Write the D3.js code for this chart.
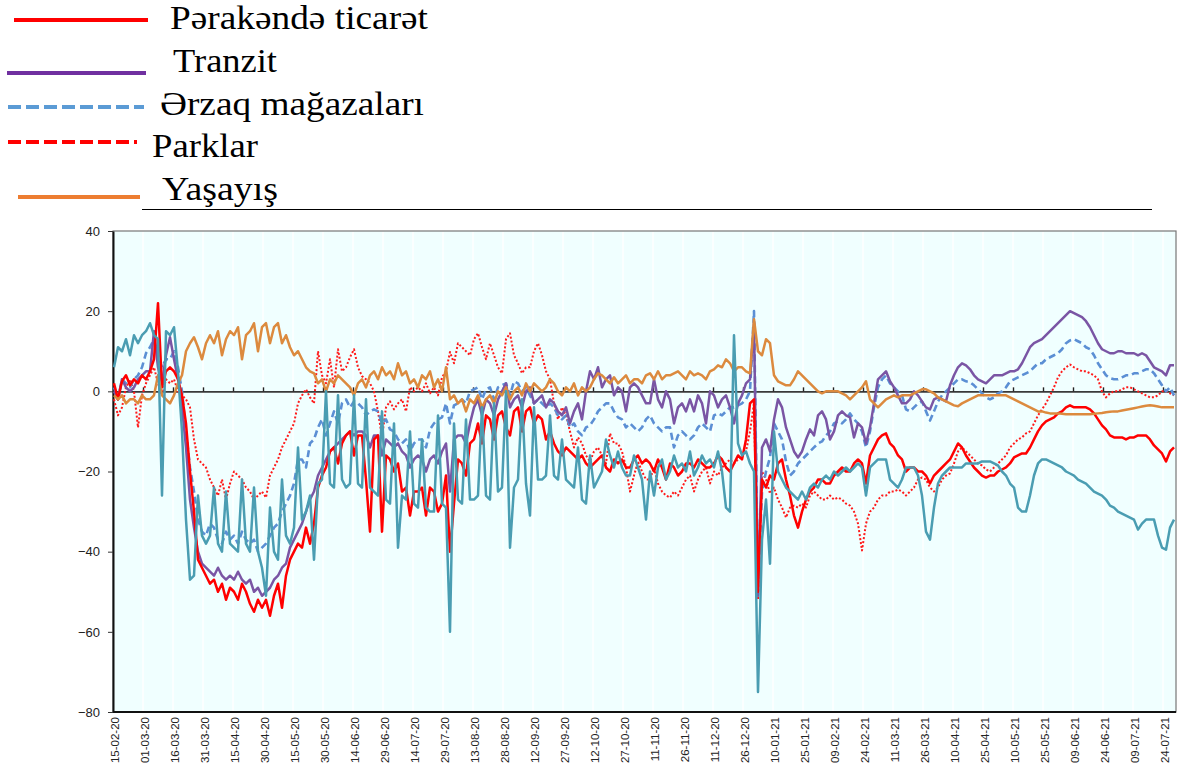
<!DOCTYPE html>
<html>
<head>
<meta charset="utf-8">
<script src="https://d3js.org/d3.v7.min.js"></script>
<style>
  body { margin: 0; background: #fff; }
  svg { display: block; }
  .tick text { font-family: "Liberation Sans", Arial, sans-serif; fill: #222; }
</style>
</head>
<body>
<script>
  // one value every 2 days, first value on 15-02-20
  var startDate = "15-02-20";
  var stepDays = 2;

  var tickLabels = ["15-02-20","01-03-20","16-03-20","31-03-20","15-04-20","30-04-20","15-05-20","30-05-20",
    "14-06-20","29-06-20","14-07-20","29-07-20","13-08-20","28-08-20","12-09-20","27-09-20","12-10-20",
    "27-10-20","11-11-20","26-11-20","11-12-20","26-12-20","10-01-21","25-01-21","09-02-21","24-02-21",
    "11-03-21","26-03-21","10-04-21","25-04-21","10-05-21","25-05-21","09-06-21","24-06-21","09-07-21","24-07-21"];
  var yTicks = [-80, -60, -40, -20, 0, 20, 40];

  var seriesNames = ["Pərakəndə ticarət", "Tranzit", "Ərzaq mağazaları", "Parklar", "Yaşayış"];

  // Pərakəndə ticarət
  var retail = [
    2, -2, 2.5, 4, 1.5, 3, 2, 4, 3, 5,
    8, 22, 1, 5, 6, 5, 3, -1, -8, -20,
    -30, -42, -44, -46, -48, -47, -50, -48, -52, -49,
    -50, -52, -48, -50, -53, -55, -52, -54, -52, -56,
    -51, -48, -54, -46, -42, -40, -38, -39, -34, -38,
    -33, -24, -21, -19, -15, -14, -18, -13, -11, -10,
    -16, -11, -11, -22, -35, -12, -11, -35, -16, -17,
    -20, -18, -25, -24, -31, -25, -25, -24, -31, -24,
    -25, -30, -28, -21, -40, -28, -17, -18, -21, -13,
    -12, -8, -13, -6, -7, -12, -6, -5, -9, -11,
    -5, -4, -10, -5, -4, -8, -6, -7, -12, -10,
    -13, -15, -16, -14, -15, -16, -17, -16, -18, -19,
    -18, -17, -16, -19, -20, -17, -18, -17, -19, -19,
    -17, -16, -18, -17, -18, -20, -17, -19, -22, -18,
    -19, -21, -20, -18, -18, -19, -17, -18, -19, -19,
    -18, -16, -17, -19, -20, -18, -16, -17, -12, -3,
    -2, -50, -22, -24, -21, -22, -18, -17, -22, -26,
    -31, -34, -30, -27, -25, -24, -22, -22, -23, -23,
    -21, -20, -19, -20, -20, -18, -17, -18, -23, -16,
    -14, -12, -11, -10.5, -13, -14, -16, -17, -20, -19,
    -19, -20, -20, -21, -23, -21, -20, -19, -18, -17,
    -15, -13, -14, -16, -17.5, -19, -20, -21, -21.5, -21,
    -21, -20, -19.5, -19, -18, -16.5, -16, -15.5, -15.5, -14,
    -12, -10, -8.5, -7.5, -7, -6.5, -5.5, -5, -4, -3.5,
    -4, -4, -4, -4, -4.5, -5.5, -7, -8.5, -9.5, -11,
    -11.5, -11.5, -11.5, -12, -11.5, -11.5, -11, -11, -11, -12,
    -13.5, -14.5, -15.5, -17.5, -15, -14
  ];

  // Tranzit
  var transit = [
    0, -2, 3, 1, 0, 1, 3, 4, 5, 5,
    15, 6, 2, 9, 13.5, 8, 3, -4, -14, -27,
    -34, -40, -43, -44, -45, -46, -44, -46, -47, -46,
    -47, -45, -47, -48, -47, -50, -49, -51, -50, -49,
    -47, -46, -44, -43, -39, -37, -35, -33, -30, -27,
    -25, -21, -19, -17, -15, -14, -13, -12, -11, -10,
    -11, -10, -10, -11, -14, -11, -11, -16, -12, -13,
    -14, -13, -15, -16, -19, -17, -16, -17, -20, -17,
    -16, -18, -15, -13, -25, -12, -11, -11, -13, -8,
    -4, -2, -6, -2, -3, -6, -2, 0, 2, -4,
    -2, -1, -4, 0, 1, -3, -2, -1, -4, -2,
    -3, -5, -6, -4, -8, -5, -3, -7, 0, 5,
    3, 6, 1, 3, 4, -1, 1, 0, -5, 1,
    2, 1, -1, -3, -3, 3, -2, -4, 0, -2,
    -8, -4, -3, -5, -2, -5, -1, -3, -8, 0,
    -1, -4, -2, -1, -4, -8, -3, -1, 2, 3,
    17, -51, -14, -12, -15, -7, -2, -4, -9, -12,
    -15, -16.5, -15, -12, -9.5, -11, -6, -5, -7, -12,
    -10, -6, -5, -6, -6.5, -11.5, -8, -9, -13, -9,
    -3, 3, 4, 5, 2.5, 1, -1, -3, -3, -2,
    0, -1, -2.5, -4, -4.5, -2, -1.5, -2, -2.5, 1.5,
    4, 6, 7, 6.5, 5.5, 4, 3, 2.5, 2, 3,
    4, 4, 4, 4.5, 5, 5, 5.5, 7, 9, 11,
    12, 12.5, 13, 14, 15, 16, 17, 18, 19, 20,
    19.5, 19, 18.5, 17.5, 16, 14, 12, 10.5, 10, 9.5,
    9.5, 10, 10, 9.5, 9.5, 9.5, 9, 9.5, 9, 7.5,
    6, 5.5, 5, 4, 6.5, 6.5
  ];

  // Ərzaq mağazaları
  var grocery = [
    1, -2, 3, 2, 1, 3, 4, 6, 9.5, 11,
    13, 9, 6, 8, 8, 10, 6, 0, -10, -19,
    -25, -32, -35, -36, -33, -34, -37, -38, -35, -37,
    -36, -38, -35, -37, -38, -37, -40, -39, -38, -36,
    -34, -33, -30, -28, -26, -23, -17, -17, -19, -13,
    -12, -9, -7, -11, -8, -5, -8, -3, -2, -4,
    -2.5, -3, -4, -6, -5, -4.5, -5, -8, -7, -9.5,
    -10, -12, -13, -12, -15, -13, -12, -12, -14, -9.5,
    -8, -7, -6.5, -3, -8, -3.5, -3, -2, -3, 0,
    0.5, 1, -2, 0.5, 1, -2, 1, 1.5, 2, -1,
    2.5, 2, 0, 1, -1, -3, -2, -3, -4, -3,
    -4, -6, -7, -6, -9, -8, -10, -11, -9, -8.5,
    -7, -5, -4, -3, -3, -5, -6.5, -7, -9, -8,
    -9, -10, -9, -7, -6, -8, -9, -10, -9, -9,
    -14, -11, -10, -11, -12, -11, -9, -8, -9, -10,
    -6, -5.5, -6, -5, -4, -4, -3.5, -3, -2, 0,
    20, -50, -25, -20, -16.5, -8, -10, -12, -17.5, -21,
    -20, -18, -17, -16, -15, -14, -13, -12.5, -11, -10,
    -8, -7.5, -8, -7, -5.5, -7, -8, -10, -14, -10,
    -4, 1, 3, 4, 2, 1, 0, -1, -4.5, -5,
    -4, -3, -2.5, -5, -7.3, -5, -2.5, -1, 0, 1,
    2, 3, 3, 2.5, 2.3, 1.5, 0.5, -0.5, -1.5, -2,
    -1.5, -0.5, 0, 1, 2.5, 3, 3.5, 4, 4.5, 5,
    6, 7, 7, 8, 8.5, 9, 9.5, 10.5, 12, 12.7,
    13, 12.5, 12, 11, 10.5, 9, 7, 5.5, 4, 3.3,
    3, 3, 3.5, 4, 4, 4.5, 4.5, 5, 5.5, 5.5,
    4.5, 3, 1.5, 0, 1, -1
  ];

  // Parklar
  var parks = [
    -2, -6, -4, 1, 3, 0, -9, -1, 2, 4,
    6, 2, -1, 3, 2, 3, 0, -1, -2, -4,
    -12, -17, -18, -19, -22, -24, -26, -22, -27, -23,
    -20, -21, -22, -24, -25, -27, -26, -25, -26.5, -21,
    -19, -17, -14, -12, -10, -8, -3, -1, 0.5, -1.5,
    -3, 10, 4, 2, 8, 1, 10.5, 5, 6, 8.5,
    10.5, 6, 3.8, 3, 2, 0, -5, -11.5, -4, -2.5,
    -4.5, -3, -2, -5, 1, 0, 1, 0, 2, -0.5,
    1, -1, 3.5, 5, 9.8, 7, 12, 11, 10, 9,
    13, 14.5, 11, 8, 12, 9, 6, 4.5, 13, 14.5,
    9, 7, 4.5, 6, 6, 10, 12, 9, 5, 3,
    -3, -7, -4, -6, -10, -14, -11.5, -13, -16, -17.5,
    -15, -14, -16, -18, -10.5, -13, -13, -15, -19, -25,
    -21, -17.5, -20, -22, -22, -19, -23, -25, -26, -26.5,
    -25, -26, -24, -22, -21, -25, -22, -20, -19, -23,
    -20, -21, -19, -18, -17, -18, -17, -16, -15, -10,
    -3, -52, -20, -22, -25.5, -24, -27, -29, -31.5, -29,
    -28.5, -29, -28, -29, -26, -25, -26, -27, -27, -26,
    -27, -26.5, -27, -28, -28.5, -30, -33, -39.7, -33, -30,
    -29, -27, -26, -26, -25, -25, -24.5, -25, -26, -25,
    -24, -22, -21.5, -22, -24, -25, -24, -22, -21, -20.5,
    -18, -15, -14, -15, -16, -17, -18, -18.5, -19.5, -20,
    -19, -18, -17, -16, -14, -13, -12, -11.5, -10.5, -10,
    -8, -6, -4.5, -3, -1, 1, 3.5, 5, 6, 6.7,
    6, 5.5, 5, 5, 4.5, 4, 3, 0, -1.5, -0.5,
    0, 0, 0.5, 1, 1, 0.5, 0, -0.5, -1, -1.5,
    -1.5, -1, 0, 0, -0.5, -1
  ];

  // Yaşayış
  var residential = [
    -1, -2, -1, -3, -2, -2, -3, -1, -2, -2,
    -1, 4, -1, -2, -3, -1, 2, 4, 10, 12,
    13.5, 11, 8, 12, 14, 12, 15, 9, 13, 15,
    14, 16, 8, 14, 15, 17, 10, 16, 17, 12,
    16, 17, 12, 14, 11, 9, 10, 8, 6, 5,
    4.5, 2, 3, 0, 3, 2, 4, 3, 2, 1,
    -1, 2, 3, 1, 4, 5, 3, 6, 4, 5,
    3, 7, 4, 5, 2, 3, 1, 4, 3, 5,
    1, 3, 0, 6, -2, -1, -3, -2, -5, -2,
    -3, -1, -4, -2, -1, -3, 0, -1, 1, -2,
    0, 1, -1, 2, 0, 2, 1, 0, 1, 3,
    2, 0, -1, 1, 0, 2, -1, 1, 0, 1,
    3, 4.5, 4, 3, 2, 3.5, 2, 3, 4, 2,
    3, 3, 2, 4, 4.5, 3, 5, 3, 4, 4,
    4.5, 5, 4, 3, 5, 4, 4.5, 4, 3, 5,
    5.5, 6.5, 6, 8, 7, 5, 6, 6, 5, 4.5,
    18, 10, 9, 13, 12, 4, 2.5, 2, 1.5, 1.5,
    3, 5, 4, 3, 2, 1, 0, -0.5, 0, 0,
    0, 0, -0.5, -1, -2, -1, 0, 1, 2.5, -2,
    -3, -4, -3, -2, -1.5, -1, -1.5, -1, -1, -1,
    -0.5, 0, 0.5, 0.5, 0, -0.5, -1.5, -2, -2.5, -3,
    -3.5, -3.7, -3, -2.5, -2, -1.5, -1, -1, -1, -1,
    -1, -1, -1, -1, -1.5, -2, -2.5, -3, -3.5, -4,
    -4.5, -5, -5, -5.3, -5.5, -5.5, -5.5, -5.6, -5.7, -5.7,
    -5.7, -5.7, -5.7, -5.7, -5.7, -5.6, -5.5, -5.4, -5.2, -5.1,
    -5, -5, -4.8, -4.6, -4.4, -4.2, -4, -3.8, -3.6, -3.5,
    -3.6, -3.8, -4, -4, -4, -4
  ];

  // iş yerləri (no legend entry in the original)
  var workplaces = [
    6, 11, 10, 13, 9, 14, 12, 14, 15, 17,
    14, 13, -26, 15, 14, 16, 5, -10, -32, -47,
    -46, -26, -36, -38, -36, -24, -38, -40, -25, -38,
    -39, -40, -22, -38, -40, -24, -40, -44, -51, -29,
    -40, -42, -22, -36, -38, -34, -14, -32, -30, -26,
    -42, -23, -22, 0, -23, -24, -1, -22, -24, -23,
    -1, -23, -24, -2, -24, -25, -26, -5, -27, -28,
    -8, -39, -26, -27, -10, -28, -29, -12, -29, -30,
    -30, -6, -28, -29, -60, -8, -27, -28, -7, -27,
    -27, -26, -4, -26, -27, -3, -25, -24, 0, -39,
    -24, -22, -2, -23, -31, -4, -22, -22, -21, -6,
    -21, -22, -12, -22, -23, -24, -14, -27, -28, -16,
    -24, -22, -20, -12, -16, -19, -15, -19, -21, -21,
    -16, -19, -22, -32, -20, -26, -19, -17, -22, -20,
    -16, -19, -18, -20, -15, -21, -19, -16, -18, -17,
    -19, -15, -20, -29, -30, 14, -13, -16, -15, -18,
    -20, -75, -37, -27, -43, -10, -20, -22, -24, -25,
    -26, -27, -25, -27, -24, -23, -24, -22, -21, -22,
    -20, -21, -20, -19, -20, -19, -18, -19, -26, -19,
    -18, -17, -17, -17, -22, -23, -24, -22, -19, -19,
    -19, -21, -26, -35, -37, -29, -23, -21, -20, -19,
    -19, -19, -19, -18, -18, -18, -18, -17.5, -17.5, -17.5,
    -18, -18.5, -20, -21, -23, -24, -29, -30, -30, -26,
    -21, -18, -17, -17, -17.5, -18, -18.5, -19, -20, -20.5,
    -21, -22, -22.5, -23, -24, -25, -25.5, -26, -27, -28.5,
    -29, -30, -30.5, -31, -31.5, -32, -34.5, -33, -32, -32,
    -32, -36, -39, -39.5, -34, -32
  ];

  var width = 1179, height = 769;
  var plot = {left: 113, right: 1176, top: 231, bottom: 712};

  var svg = d3.select("body").append("svg")
    .attr("width", width)
    .attr("height", height);

  var parseDay = d3.timeParse("%d-%m-%y");
  var start = parseDay(startDate);
  var dates = retail.map(function(d, i) { return d3.timeDay.offset(start, i * stepDays); });
  var tickDates = tickLabels.map(parseDay);

  var x = d3.scaleTime()
    .domain([d3.timeHour.offset(start, -12), d3.timeDay.offset(start, 531)])
    .range([plot.left, plot.right]);
  var y = d3.scaleLinear()
    .domain([-80, 40])
    .range([plot.bottom, plot.top]);

  // plot area
  svg.append("rect")
    .attr("x", plot.left).attr("y", plot.top)
    .attr("width", plot.right - plot.left).attr("height", plot.bottom - plot.top)
    .attr("fill", "#f0ffff")
    .attr("stroke", "#777").attr("stroke-width", 1.2);

  // tick boundaries fall half a day before each label
  var bounds = tickDates.map(function(d) { return d3.timeHour.offset(d, -12); });

  svg.append("g").selectAll("line")
    .data(bounds.slice(1))
    .enter().append("line")
    .attr("x1", function(d) { return x(d); }).attr("x2", function(d) { return x(d); })
    .attr("y1", plot.top + 1).attr("y2", plot.bottom - 1)
    .attr("stroke", "#ffffff").attr("stroke-width", 1.5);

  // y axis
  var yAxis = svg.append("g")
    .attr("transform", "translate(" + plot.left + ",0)")
    .call(d3.axisLeft(y).tickValues(yTicks).tickSize(5).tickSizeOuter(0).tickPadding(8));
  yAxis.select(".domain").attr("stroke", "#111").attr("stroke-width", 2);
  yAxis.selectAll(".tick line").attr("stroke", "#333");
  yAxis.selectAll("text").style("font-size", "13px");

  // x axis labels
  var xAxis = svg.append("g")
    .attr("transform", "translate(0," + plot.bottom + ")")
    .call(d3.axisBottom(x).tickValues(tickDates).tickSize(0).tickFormat(d3.timeFormat("%d-%m-%y")));
  xAxis.select(".domain").remove();
  xAxis.selectAll("text")
    .attr("transform", "rotate(-90)")
    .attr("x", -5).attr("y", 0).attr("dy", "0.35em")
    .style("text-anchor", "end")
    .style("font-size", "11.5px");

  // bottom border
  svg.append("line")
    .attr("x1", plot.left).attr("x2", plot.right)
    .attr("y1", plot.bottom).attr("y2", plot.bottom)
    .attr("stroke", "#111").attr("stroke-width", 2);

  // zero line with small ticks
  var zero = svg.append("g")
    .attr("transform", "translate(0," + y(0) + ")")
    .call(d3.axisTop(x).tickValues(bounds.slice(1)).tickSize(4).tickSizeOuter(0).tickFormat(""));
  zero.select(".domain").attr("stroke", "#3a3a3a").attr("stroke-width", 1.6);
  zero.selectAll(".tick line").attr("stroke", "#222").attr("stroke-width", 1.4);

  var line = d3.line()
    .x(function(d, i) { return x(dates[i]); })
    .y(function(d) { return y(d); });

  var lines = [
    {values: parks, color: "#ff1a1a", width: 2, dash: "2,2"},
    {values: grocery, color: "#5b8fd4", width: 2.6, dash: "7,4"},
    {values: transit, color: "#7a55a4", width: 2.5, dash: null},
    {values: retail, color: "#ff0000", width: 2.5, dash: null},
    {values: residential, color: "#dc8a3e", width: 2.5, dash: null},
    {values: workplaces, color: "#4a9db2", width: 2.5, dash: null}
  ];

  svg.append("g").selectAll("path")
    .data(lines)
    .enter().append("path")
    .attr("d", function(d) { return line(d.values); })
    .attr("fill", "none")
    .attr("stroke", function(d) { return d.color; })
    .attr("stroke-width", function(d) { return d.width; })
    .attr("stroke-dasharray", function(d) { return d.dash; })
    .attr("stroke-linejoin", "round");

  // legend
  var legend = [
    {x1: 14, x2: 148, ly: 20, tx: 170, ty: 29, tw: 258, color: "#ff0000", dash: null},
    {x1: 7, x2: 146, ly: 73, tx: 173, ty: 72, tw: 104, color: "#7030a0", dash: null},
    {x1: 8, x2: 144, ly: 107, tx: 160, ty: 115, tw: 264, color: "#5b9bd5", dash: "13,5"},
    {x1: 8, x2: 137, ly: 142, tx: 152, ty: 157, tw: 106, color: "#ff0000", dash: "13,5"},
    {x1: 18, x2: 140, ly: 197, tx: 162, ty: 200, tw: 116, color: "#ed7d31", dash: null}
  ];

  var lg = svg.append("g");
  legend.forEach(function(d, i) {
    lg.append("line")
      .attr("x1", d.x1).attr("x2", d.x2).attr("y1", d.ly).attr("y2", d.ly)
      .attr("stroke", d.color).attr("stroke-width", 4)
      .attr("stroke-dasharray", d.dash);
    lg.append("text")
      .attr("x", d.tx).attr("y", d.ty)
      .attr("textLength", d.tw).attr("lengthAdjust", "spacingAndGlyphs")
      .style("font-family", "'Liberation Serif', 'Times New Roman', serif")
      .style("font-size", "33px")
      .attr("fill", "#000")
      .text(seriesNames[i]);
  });
  lg.append("line")
    .attr("x1", 142).attr("x2", 1152).attr("y1", 209.5).attr("y2", 209.5)
    .attr("stroke", "#000").attr("stroke-width", 1);
</script>
</body>
</html>
